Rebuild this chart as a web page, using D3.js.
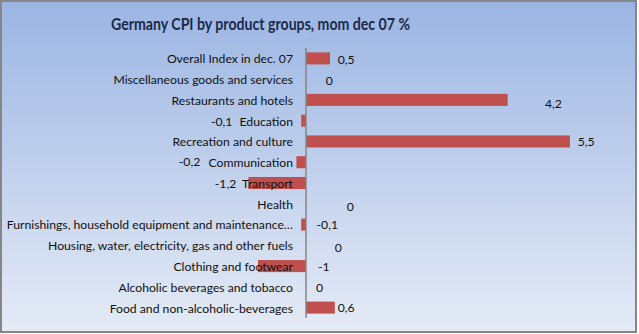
<!DOCTYPE html>
<html><head><meta charset="utf-8">
<script src="https://cdn.jsdelivr.net/npm/d3@7"></script>
<style>body{margin:0;padding:0;overflow:hidden;}svg{display:block;}</style>
</head><body>
<script>
const categories = [
  "Overall Index in dec. 07",
  "Miscellaneous goods and services",
  "Restaurants and hotels",
  "Education",
  "Recreation and culture",
  "Communication",
  "Transport",
  "Health",
  "Furnishings, household equipment and maintenance…",
  "Housing, water, electricity, gas and other fuels",
  "Clothing and footwear",
  "Alcoholic beverages and tobacco",
  "Food and  non-alcoholic-beverages"
];
const values = [0.5, 0, 4.2, -0.1, 5.5, -0.2, -1.2, 0, -0.1, 0, -1, 0, 0.6];
const valueLabels = ["0,5", "0", "4,2", "-0,1", "5,5", "-0,2", "-1,2", "0", "-0,1", "0", "-1", "0", "0,6"];
// label anchor positions in value units (Excel placed these loosely)
const labelAt = [0.66, 0.41, 4.98, -1.98, 5.66, -2.65, -1.9, 0.85, 0.22, 0.6, 0.25, 0.21, 0.66];
const labelDy = [1, 1, 3, 0, 0, -1, 0, 2, 0, 2, 0, 0, 0];
const title = "Germany CPI by product groups, mom dec 07 %";

const W = 639, H = 334;
const svg = d3.select("body").append("svg").attr("width", W).attr("height", H);
const defs = svg.append("defs");
const g = defs.append("linearGradient").attr("id", "bg").attr("x1", 0).attr("y1", 0).attr("x2", 0).attr("y2", 1);
g.append("stop").attr("offset", "0%").attr("stop-color", "#9bb5e3");
g.append("stop").attr("offset", "100%").attr("stop-color", "#e5ebf6");

svg.append("rect").attr("x", 1).attr("y", 1).attr("width", 635).attr("height", 331)
  .attr("fill", "url(#bg)").attr("stroke", "#868686").attr("stroke-width", 2);

const font = "Lato, 'Open Sans', sans-serif";

svg.append("text").attr("x", 111).attr("y", 29.5)
  .attr("textLength", 299).attr("lengthAdjust", "spacingAndGlyphs")
  .attr("font-family", font).attr("font-weight", "bold")
  .attr("font-size", 16.2).attr("fill", "#1c2a48").text(title);

const x = d3.scaleLinear().domain([0, 5.5]).range([306, 570]);
const y = d3.scaleBand().domain(categories).range([48, 318]).paddingInner(0.42).paddingOuter(0.21);

svg.append("g").selectAll("rect").data(values).join("rect")
  .attr("x", d => x(Math.min(0, d)))
  .attr("width", d => Math.abs(x(d) - x(0)))
  .attr("y", (d, i) => y(categories[i]))
  .attr("height", y.bandwidth())
  .attr("fill", "#c0504d");

// axis line + category labels
const yAxis = d3.axisLeft(y).tickSize(0).tickPadding(13);
const ax = svg.append("g").attr("transform", `translate(${x(0)},0)`).call(yAxis);
ax.select(".domain").attr("stroke", "#868686").attr("stroke-width", 1.5).attr("d", `M0,48V318`);
ax.selectAll("text").attr("font-family", font).attr("font-size", 12.2).attr("fill", "#111").attr("dy", "0.4em");

svg.append("g").selectAll("text").data(values).join("text")
  .attr("x", (d, i) => x(labelAt[i]))
  .attr("y", (d, i) => y(categories[i]) + y.bandwidth() / 2 + labelDy[i])
  .attr("dy", "0.4em")
  .attr("text-anchor", "start")
  .attr("font-family", font).attr("font-size", 12.2).attr("fill", "#111")
  .text((d, i) => valueLabels[i]);
</script>
</body></html>
